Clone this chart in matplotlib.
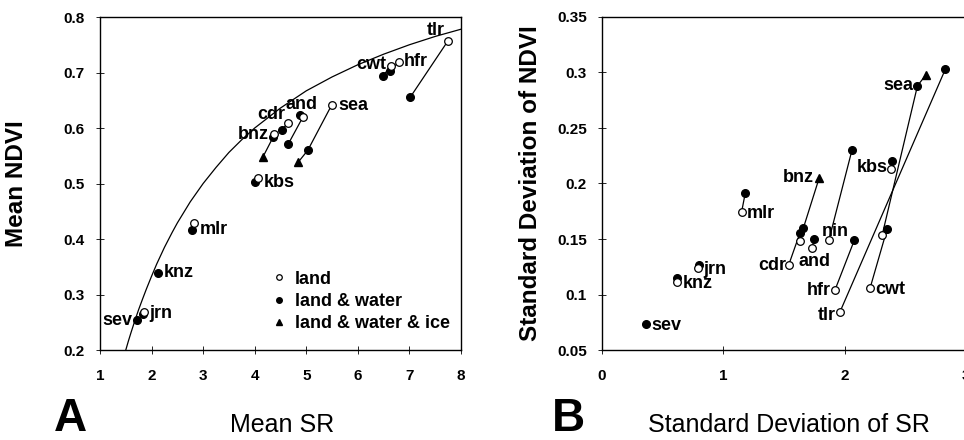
import numpy as np
import matplotlib
matplotlib.use('Agg')
import matplotlib.pyplot as plt
from matplotlib.lines import Line2D

nan = np.nan

# ---- panel A: mean SR vs mean NDVI
sites = ['tlr', 'cwt', 'hfr', 'sea', 'and', 'nin', 'cdr', 'bnz', 'kbs', 'mlr', 'knz', 'jrn', 'sev']
show_a = [True, True, True, True, True, False, True, True, True, True, True, True, True]

land_a_x = [7.74, 6.64, 6.79, 5.49, 4.93, nan, 4.64, 4.38, 4.06, 2.83, nan, 1.86, nan]
land_a_y = [0.756, 0.712, 0.719, 0.641, 0.619, nan, 0.609, 0.590, 0.510, 0.428, nan, 0.268, nan]
water_a_x = [7.02, 6.48, 6.63, 5.03, 4.65, 4.88, 4.52, 4.36, 4.01, 2.79, 2.13, 1.84, 1.71]
water_a_y = [0.656, 0.693, 0.703, 0.560, 0.571, 0.623, 0.596, 0.584, 0.502, 0.417, 0.339, 0.265, 0.254]
ice_a_x = [nan, nan, nan, 4.84, nan, nan, nan, 4.16, nan, nan, nan, nan, nan]
ice_a_y = [nan, nan, nan, 0.538, nan, nan, nan, 0.548, nan, nan, nan, nan, nan]

# curve
curve_sr = [1.42, 1.46, 1.5, 1.55, 1.6, 1.68, 1.75, 1.83, 1.9, 2.0, 2.1, 2.25, 2.4, 2.5, 2.75,
            3.0, 3.25, 3.5, 3.75, 4.0, 4.5, 5.0, 5.5, 6.0, 6.5, 7.0, 7.5, 8.0]
curve_ndvi = [0.174, 0.187, 0.200, 0.216, 0.231, 0.254, 0.273, 0.293, 0.310, 0.333, 0.355,
              0.385, 0.412, 0.429, 0.467, 0.500, 0.529, 0.556, 0.579, 0.600, 0.636, 0.667,
              0.692, 0.714, 0.733, 0.750, 0.765, 0.778]

# ---- panel B: SD of SR vs SD of NDVI
land_b_x = [1.96, 2.21, 1.92, 2.31, 1.73, 1.87, 1.54, 1.63, 2.38, 1.15, 0.62, 0.79, nan]
land_b_y = [0.084, 0.106, 0.104, 0.154, 0.142, 0.149, 0.127, 0.148, 0.213, 0.174, 0.111, 0.124, nan]
water_b_x = [2.83, 2.35, 2.08, 2.60, 1.75, 2.06, 1.63, 1.66, 2.39, 1.18, 0.62, 0.80, 0.36]
water_b_y = [0.303, 0.159, 0.149, 0.288, 0.150, 0.230, 0.155, 0.160, 0.220, 0.191, 0.115, 0.127, 0.073]
ice_b_x = [nan, nan, nan, 2.67, nan, nan, nan, 1.79, nan, nan, nan, nan, nan]
ice_b_y = [nan, nan, nan, 0.298, nan, nan, nan, 0.205, nan, nan, nan, nan, nan]

# label placement: (anchor series, dx pt, dy pt, ha, va)
lab_a = {
    'tlr': ('land', -2, 2, 'right', 'bottom'),
    'cwt': ('land', -3, 1, 'right', 'center'),
    'hfr': ('land', 4, 0, 'left', 'center'),
    'sea': ('land', 5, 0, 'left', 'center'),
    'and': ('land', -1, 3, 'center', 'bottom'),
    'cdr': ('land', -2, 0, 'right', 'bottom'),
    'bnz': ('land', -4, -1, 'right', 'center'),
    'kbs': ('land', 4, -3, 'left', 'center'),
    'mlr': ('water', 5, 0, 'left', 'center'),
    'knz': ('water', 4, 0, 'left', 'center'),
    'jrn': ('water', 4, 0, 'left', 'center'),
    'sev': ('water', -3, 0, 'right', 'center'),
}
lab_b = {
    'tlr': ('land', -3, -2, 'right', 'center'),
    'cwt': ('land', 4, -1, 'left', 'center'),
    'hfr': ('land', -3, 0, 'right', 'center'),
    'sea': ('water', -3, 0, 'right', 'center'),
    'and': ('land', 2, -4, 'center', 'top'),
    'nin': ('land', -5, 6, 'left', 'center'),
    'cdr': ('land', -2, -1, 'right', 'center'),
    'bnz': ('ice', -4, 0, 'right', 'center'),
    'kbs': ('land', -2, 1, 'right', 'center'),
    'mlr': ('land', 4, -1, 'left', 'center'),
    'knz': ('land', 4, -1, 'left', 'center'),
    'jrn': ('land', 4, -1, 'left', 'center'),
    'sev': ('water', 4, -1, 'left', 'center'),
}

plt.rcParams['font.family'] = ['Liberation Sans', 'DejaVu Sans']


def draw_panel(ax, lx, ly, wx, wy, ix, iy, labels, show):
    for i, s in enumerate(sites):
        px = [v for v in (lx[i], wx[i], ix[i]) if not np.isnan(v)]
        py = [v for v in (ly[i], wy[i], iy[i]) if not np.isnan(v)]
        if len(px) > 1:
            ax.plot(px, py, '-', color='k', lw=0.9, zorder=2)
    ax.plot(wx, wy, 'o', ms=5.5, mfc='k', mec='k', ls='none', zorder=3)
    ax.plot(lx, ly, 'o', ms=5.5, mfc='white', mec='k', mew=0.9, ls='none', zorder=4)
    ax.plot(ix, iy, '^', ms=6, mfc='k', mec='k', ls='none', zorder=3)
    src = {'land': (lx, ly), 'water': (wx, wy), 'ice': (ix, iy)}
    for i, s in enumerate(sites):
        if s not in labels or not show[i]:
            continue
        key, dx, dy, ha, va = labels[s]
        x, y = src[key][0][i], src[key][1][i]
        ax.annotate(s, (x, y), xytext=(dx, dy), textcoords='offset points',
                    ha=ha, va=va, fontsize=13, fontweight='bold', zorder=5)


def style_axes(ax):
    for sp in ax.spines.values():
        sp.set_linewidth(1.0)
    ax.tick_params(direction='inout', length=6, width=0.6, labelsize=11)
    ax.tick_params(axis='y', pad=8)
    ax.tick_params(axis='x', pad=10.5)
    for t in ax.get_xticklabels() + ax.get_yticklabels():
        t.set_fontweight('bold')


fig = plt.figure(figsize=(9.64, 4.4), dpi=100)

axa = fig.add_axes([100 / 964, 90 / 440, 361 / 964, 333 / 440])
axa.plot(curve_sr, curve_ndvi, '-', color='k', lw=0.9, zorder=1)
draw_panel(axa, land_a_x, land_a_y, water_a_x, water_a_y, ice_a_x, ice_a_y, lab_a, show_a)
axa.set_xlim(1, 8)
axa.set_ylim(0.2, 0.8)
axa.set_xticks(range(1, 9))
axa.set_yticks(np.arange(0.2, 0.81, 0.1))
axa.set_yticklabels(['0.2', '0.3', '0.4', '0.5', '0.6', '0.7', '0.8'])
style_axes(axa)
axa.set_ylabel('Mean NDVI', fontsize=17.5, fontweight='bold')
axa.yaxis.set_label_coords(-0.2, 0.5)

handles = [
    Line2D([], [], marker='o', ls='none', ms=4, mfc='white', mec='k', mew=0.9),
    Line2D([], [], marker='o', ls='none', ms=4, mfc='k', mec='k'),
    Line2D([], [], marker='^', ls='none', ms=4.5, mfc='k', mec='k'),
]
leg = axa.legend(handles, ['land', 'land & water', 'land & water & ice'],
                 loc='upper left', bbox_to_anchor=(0.455, 0.26), frameon=False,
                 fontsize=13, handlelength=0.8, handletextpad=0.5, labelspacing=0.3,
                 borderaxespad=0)
for t in leg.get_texts():
    t.set_fontweight('bold')

axb = fig.add_axes([602 / 964, 90 / 440, 364 / 964, 333 / 440])
draw_panel(axb, land_b_x, land_b_y, water_b_x, water_b_y, ice_b_x, ice_b_y, lab_b, [True] * 13)
axb.set_xlim(0, 3)
axb.set_ylim(0.05, 0.35)
axb.set_xticks([0, 1, 2, 3])
axb.set_yticks([0.05, 0.1, 0.15, 0.2, 0.25, 0.3, 0.35])
axb.set_yticklabels(['0.05', '0.1', '0.15', '0.2', '0.25', '0.3', '0.35'])
style_axes(axb)
axb.set_ylabel('Standard Deviation of NDVI', fontsize=17.5, fontweight='bold')
axb.yaxis.set_label_coords(-0.165, 0.5)

fig.text(282 / 964, 15 / 440, 'Mean SR', fontsize=18, ha='center', va='center')
fig.text(789 / 964, 15 / 440, 'Standard Deviation of SR', fontsize=18, ha='center', va='center')
fig.text(70 / 964, 21 / 440, 'A', fontsize=33, fontweight='bold', ha='center', va='center')
fig.text(568 / 964, 21 / 440, 'B', fontsize=33, fontweight='bold', ha='center', va='center')

fig.savefig('out.png', dpi=100)
